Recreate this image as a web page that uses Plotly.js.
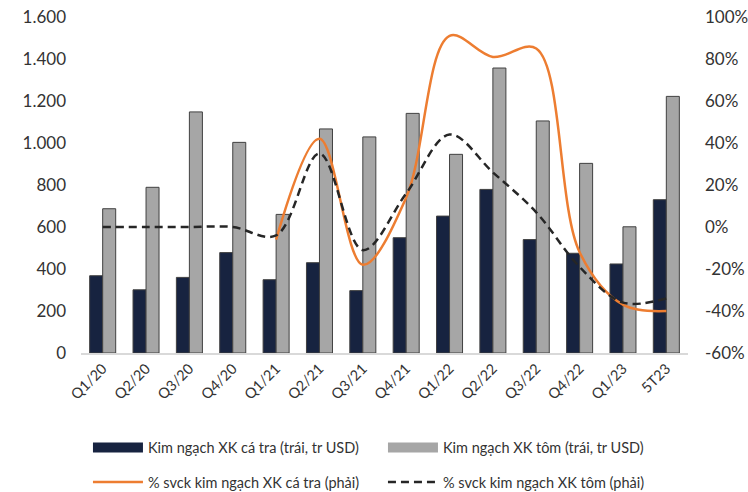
<!DOCTYPE html>
<html>
<head>
<meta charset="utf-8">
<script src="https://cdn.plot.ly/plotly-3.0.1.min.js"></script>
<style>html,body{margin:0;padding:0;background:#fff;}#chart{width:748px;height:492px;}</style>
</head>
<body>
<div id="chart"></div>
<script>
const categories = ['Q1/20','Q2/20','Q3/20','Q4/20','Q1/21','Q2/21','Q3/21','Q4/21','Q1/22','Q2/22','Q3/22','Q4/22','Q1/23','5T23'];
const pangasiusExport = [368, 301, 360, 478, 349, 430, 297, 549, 652, 779, 540, 475, 424, 730];
const shrimpExport = [687, 789, 1148, 1003, 660, 1067, 1029, 1141, 946, 1357, 1105, 903, 601, 1222];
const pangasiusYoY = [null, null, null, null, -6, 42, -18, 14, 91, 81, 85, -12, -37, -40];
const shrimpYoY = [0, 0, 0, 0, -4, 35, -11, 16, 44, 26, 7, -19, -36, -34];
const leftTicks = [0, 200, 400, 600, 800, 1000, 1200, 1400, 1600];
const rightTicks = [-60, -40, -20, 0, 20, 40, 60, 80, 100];
const rightTickText = ['-60%', '-40%', '-20%', '0%', '20%', '40%', '60%', '80%', '100%'];
const seriesNames = ['Kim ngạch XK cá tra (trái, tr USD)', 'Kim ngạch XK tôm (trái, tr USD)',
  '% svck kim ngạch XK cá tra (phải)', '% svck kim ngạch XK tôm (phải)'];

const FONT = 'Lato, "Liberation Sans", sans-serif';
const TXT = '#333333';
const NAVY = '#172340', GREY = '#a6a6a6', EDGE = '#404040';

const traces = [
  {type:'bar', name:seriesNames[0], x:categories, y:pangasiusExport, showlegend:false,
   marker:{color:NAVY, line:{color:EDGE, width:1}}},
  {type:'bar', name:seriesNames[1], x:categories, y:shrimpExport, showlegend:false,
   marker:{color:GREY, line:{color:EDGE, width:1}}},
  // legend keys for the bar series (wide rectangles as in the reference)
  {type:'scatter', mode:'lines', name:seriesNames[0], x:[null], y:[null], hoverinfo:'skip',
   line:{color:NAVY, width:11}, legend:'legend'},
  {type:'scatter', mode:'lines', name:seriesNames[1], x:[null], y:[null], hoverinfo:'skip',
   line:{color:GREY, width:11}, legend:'legend'},
  {type:'scatter', mode:'lines', name:seriesNames[2], x:categories, y:pangasiusYoY,
   yaxis:'y2', line:{color:'#ED7D31', width:2.5, shape:'spline', smoothing:1}, legend:'legend2'},
  {type:'scatter', mode:'lines', name:seriesNames[3], x:categories, y:shrimpYoY,
   yaxis:'y2', line:{color:'#262626', width:2.5, dash:'8px,5px', shape:'spline', smoothing:1}, legend:'legend2'}
];

const legendCommon = {orientation:'h', xref:'container', yref:'container', xanchor:'left', yanchor:'middle',
  font:{family:FONT, size:14.5, color:TXT}, itemwidth:50, entrywidth:230, traceorder:'normal',
  bgcolor:'rgba(0,0,0,0)', itemclick:false, x:0.1176};

const layout = {
  width:748, height:492,
  margin:{l:81, r:60, t:17, b:139, autoexpand:false},
  paper_bgcolor:'#ffffff', plot_bgcolor:'#ffffff',
  separators:',.',
  font:{family:FONT, color:TXT},
  barmode:'group', bargap:0.4, bargroupgap:0,
  showlegend:true,
  xaxis:{type:'category', tickangle:-45, showgrid:false, zeroline:false, showline:true, linecolor:'#d9d9d9', linewidth:1.5,
    ticks:'', tickfont:{family:FONT, size:14.5, color:TXT}, fixedrange:true},
  yaxis:{range:[0,1600], tickvals:leftTicks, tickformat:',d', showgrid:false, zeroline:false, showline:false,
    ticks:'', ticklabelstandoff:14, tickfont:{family:FONT, size:17, color:TXT}},
  yaxis2:{overlaying:'y', side:'right', range:[-60,100], tickvals:rightTicks, ticktext:rightTickText, showgrid:false,
    zeroline:false, showline:false, ticks:'', ticklabelstandoff:16, tickfont:{family:FONT, size:17, color:TXT}},
  legend:Object.assign({}, legendCommon, {y:1 - 447.5/492}),
  legend2:Object.assign({}, legendCommon, {y:1 - 482/492})
};

Plotly.newPlot('chart', traces, layout, {displayModeBar:false, staticPlot:true});
</script>
</body>
</html>
